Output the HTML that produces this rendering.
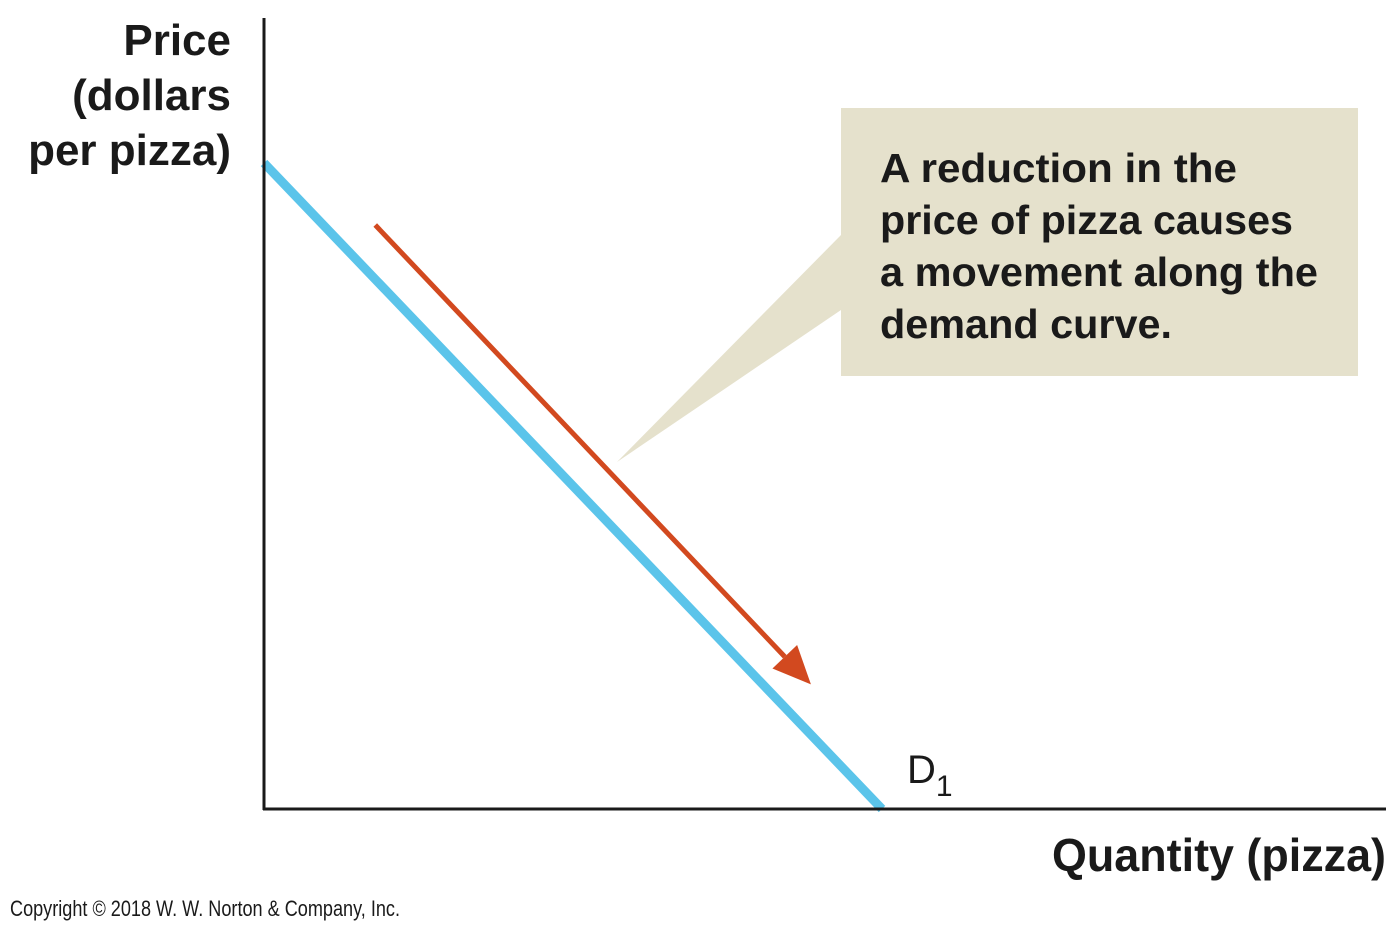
<!DOCTYPE html>
<html><head><meta charset="utf-8"><style>
body{margin:0;background:#fff;}
svg text{font-family:"Liberation Sans Narrow","Liberation Sans",sans-serif;}
</style></head><body>
<svg width="1400" height="923" viewBox="0 0 1400 923">
<g id="plot"></g>
<rect x="841" y="108" width="517" height="268" fill="#E5E1CC"/>
<polygon points="841,235 841,310 617,462" fill="#E5E1CC"/>
<g font-size="41" font-weight="bold" fill="#1a1a1a">
<text x="880" y="182" textLength="357" lengthAdjust="spacingAndGlyphs">A reduction in the</text>
<text x="880" y="234" textLength="413" lengthAdjust="spacingAndGlyphs">price of pizza causes</text>
<text x="880" y="286" textLength="438" lengthAdjust="spacingAndGlyphs">a movement along the</text>
<text x="880" y="338" textLength="292" lengthAdjust="spacingAndGlyphs">demand curve.</text>
</g>
<g font-size="44" font-weight="bold" fill="#1a1a1a" text-anchor="end">
<text x="231" y="55">Price</text>
<text x="231" y="110">(dollars</text>
<text x="231" y="165">per pizza)</text>
</g>
<text x="1052" y="871" font-size="46" font-weight="bold" fill="#1a1a1a" textLength="334" lengthAdjust="spacingAndGlyphs">Quantity (pizza)</text>
<text x="907" y="783" font-size="40" fill="#1a1a1a">D<tspan font-size="30" dy="13">1</tspan></text>
<text x="10" y="916" font-size="22" fill="#1a1a1a" textLength="390" lengthAdjust="spacingAndGlyphs">Copyright © 2018 W. W. Norton &amp; Company, Inc.</text>
</svg>
<script>
const demandQ=[0,100];
const demandP=[100,0];
const arrowQ=[18,88.5];
const arrowP=[90.4,19.3];
const X0=264,X1=882,Y0=809,Y1=163;
const sx=q=>X0+(X1-X0)*q/100;
const sy=p=>Y0-(Y0-Y1)*p/100;
const NS='http://www.w3.org/2000/svg';
const g=document.getElementById('plot');
function mk(t,a){const e=document.createElementNS(NS,t);for(const k in a)e.setAttribute(k,a[k]);g.appendChild(e);return e;}
let l=mk('line',{x1:sx(demandQ[0]),y1:sy(demandP[0]),x2:sx(demandQ[1]),y2:sy(demandP[1]),stroke:'#5BC4EA','stroke-width':9});


const ax1=sx(arrowQ[0]),ay1=sy(arrowP[0]),ax2=sx(arrowQ[1]),ay2=sy(arrowP[1]);
const ang=Math.atan2(ay2-ay1,ax2-ax1),hl=38,hw=17;
const bx=ax2-hl*Math.cos(ang),by=ay2-hl*Math.sin(ang);
let a=mk('line',{x1:ax1,y1:ay1,x2:bx,y2:by,stroke:'#D2491F','stroke-width':5});


let h=mk('polygon',{points:`${ax2},${ay2} ${bx+hw*Math.sin(ang)},${by-hw*Math.cos(ang)} ${bx-hw*Math.sin(ang)},${by+hw*Math.cos(ang)}`,fill:'#D2491F'});


let ya=mk('line',{x1:264,y1:18,x2:264,y2:810,stroke:'#1a1a1a','stroke-width':3});


let xa=mk('line',{x1:263,y1:809,x2:1386,y2:809,stroke:'#1a1a1a','stroke-width':3});


</script>
</body></html>
